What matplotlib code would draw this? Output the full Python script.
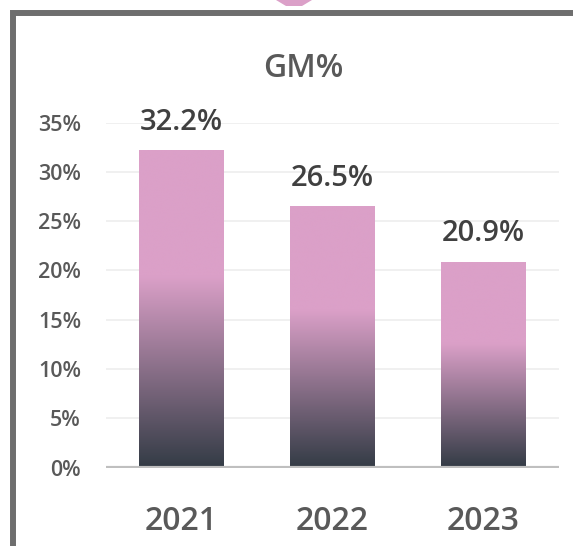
import numpy as np
import matplotlib
matplotlib.use('Agg')
import matplotlib.pyplot as plt
from matplotlib.colors import LinearSegmentedColormap
from matplotlib.patches import Rectangle, Polygon

plt.rcParams['font.family'] = ['Open Sans', 'DejaVu Sans']
plt.rcParams['font.weight'] = 'semibold'

years = ['2021', '2022', '2023']
gm = [32.2, 26.5, 20.9]
yticks = [0, 5, 10, 15, 20, 25, 30, 35]
title = 'GM%'

PINK = '#dba0c8'
DARK = '#343c46'
W, H = 573, 546

fig = plt.figure(figsize=(W / 100, H / 100), dpi=100)
fig.patch.set_facecolor('white')

# outer frame (only top/left visible) and the little pink pointer on top
fig.patches.append(Rectangle((13 / W, -0.1), 1.2, (H - 13) / H + 0.1,
                             transform=fig.transFigure, fill=False,
                             edgecolor='#6e6e6e', linewidth=4.3))
fig.patches.append(Polygon([(276 / W, 1.0), (312 / W, 1.0),
                            (302 / W, 1 - 6 / H), (286 / W, 1 - 6 / H)],
                           closed=True, transform=fig.transFigure,
                           facecolor=PINK, edgecolor='none'))

ax = fig.add_axes([106 / W, (H - 467.5) / H, (559 - 106) / W, (467.5 - 122.7) / H])
ax.set_facecolor('none')

cmap = LinearSegmentedColormap.from_list('gm', [(0, DARK), (0.6, PINK), (1, PINK)])
grad = np.linspace(0, 1, 256).reshape(-1, 1)

x = np.arange(len(years))
bars = ax.bar(x, gm, width=0.56, color='none', edgecolor='none', zorder=3)
for b, v in zip(bars, gm):
    x0, w = b.get_x(), b.get_width()
    im = ax.imshow(grad, cmap=cmap, origin='lower', aspect='auto',
                   extent=(x0, x0 + w, 0, v), zorder=3, interpolation='bicubic')
    im.set_clip_path(b)
    ax.annotate(f'{v:.1f}%', (x0 + w / 2, v), xytext=(0, 14.5),
                textcoords='offset points', ha='center', va='baseline',
                fontsize=21, color='#404040', annotation_clip=False)

for t in yticks[1:]:
    ax.axhline(t, color='#f0f0f0', lw=1.4, zorder=1)
ax.axhline(0, color='#bfbfbf', lw=3, zorder=4)

ax.set_xlim(-0.5, 2.5)
ax.set_ylim(0, 35)
ax.set_yticks(yticks)
ax.set_yticklabels([f'{t}%' for t in yticks], fontsize=15.5, color='#595959')
ax.set_xticks(x)
ax.set_xticklabels(years, fontsize=23, color='#595959')
ax.tick_params(axis='y', length=0, pad=18)
ax.tick_params(axis='x', length=0, pad=27)
for s in ax.spines.values():
    s.set_visible(False)

fig.text(303 / W, (H - 76.7) / H, title, ha='center', va='baseline',
         fontsize=23, color='#595959')

fig.savefig('out.png', dpi=100)
